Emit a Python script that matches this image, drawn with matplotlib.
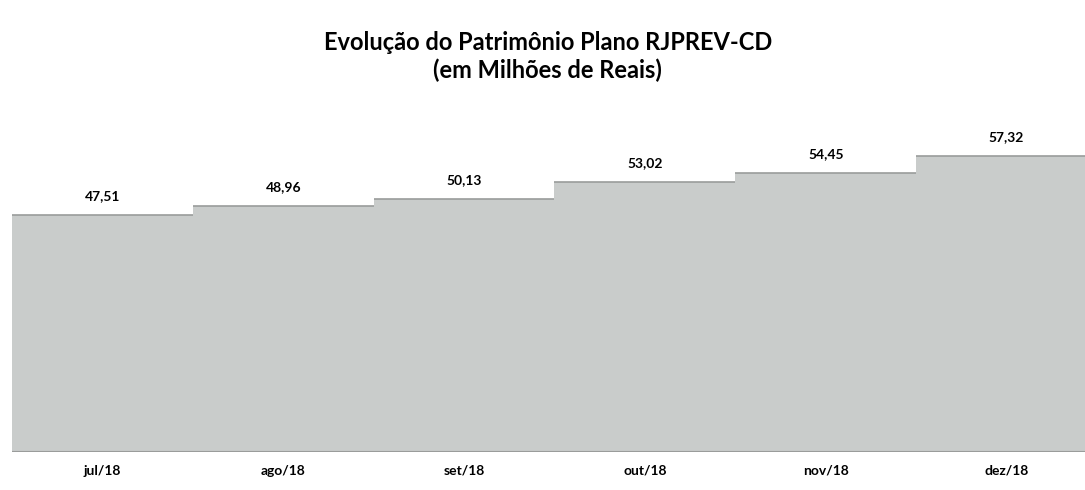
import matplotlib
matplotlib.use('Agg')
import matplotlib.pyplot as plt

meses = ['jul/18', 'ago/18', 'set/18', 'out/18', 'nov/18', 'dez/18']
patrimonio = [47.51, 48.96, 50.13, 53.02, 54.45, 57.32]
rotulos = ['47,51', '48,96', '50,13', '53,02', '54,45', '57,32']

plt.rcParams['font.family'] = ['Lato', 'DejaVu Sans']

fig = plt.figure(figsize=(10.85, 4.9), dpi=100)
ax = fig.add_axes([12 / 1085, 1 - 452 / 490, 1, 324 / 490])

x = list(range(len(meses)))
ax.bar(x, patrimonio, width=1.0, color='#c9cccb', edgecolor='none')
# linha superior mais escura de cada barra
ax.hlines(patrimonio, [i - 0.5 for i in x], [i + 0.5 for i in x], color='#9a9c9b', linewidth=1.2)
ax.axhline(8, color='#9a9c9b', linewidth=1.5)
for i, (v, r) in enumerate(zip(patrimonio, rotulos)):
    ax.text(i, v + 2.2, r, ha='center', va='bottom', fontsize=10, fontweight='bold')

ax.set_xlim(-0.5, 5.5)
ax.set_ylim(8, 62)
ax.set_xticks(x)
ax.set_xticklabels(meses, fontsize=10, fontweight='bold')
ax.tick_params(axis='x', length=0, pad=9)
ax.set_yticks([])
for s in ax.spines.values():
    s.set_visible(False)

fig.text(0.505, 0.885, 'Evolução do Patrimônio Plano RJPREV-CD\n(em Milhões de Reais)',
         ha='center', va='center', fontsize=17, fontweight='bold', linespacing=1.2)

fig.savefig('out.png', dpi=100)
